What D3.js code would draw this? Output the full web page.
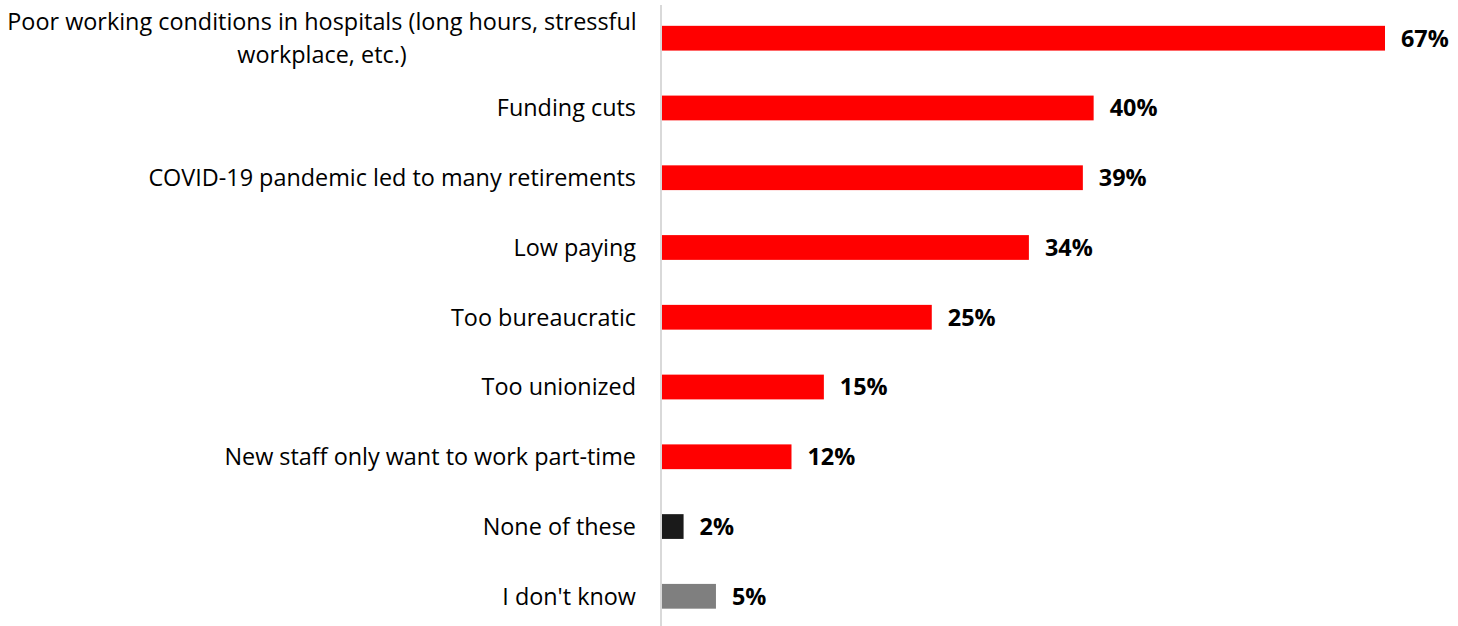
<!DOCTYPE html>
<html><head><meta charset="utf-8">
<script src="https://cdn.jsdelivr.net/npm/d3@7"></script>
<style>body{margin:0;background:#fff}svg{display:block}text{font-family:"Open Sans",sans-serif}</style>
</head><body><div id="chart"></div>
<script>
const categories = [
  ["Poor working conditions in hospitals (long hours, stressful", "workplace, etc.)"],
  ["Funding cuts"],
  ["COVID-19 pandemic led to many retirements"],
  ["Low paying"],
  ["Too bureaucratic"],
  ["Too unionized"],
  ["New staff only want to work part-time"],
  ["None of these"],
  ["I don't know"]
];
const values = [67, 40, 39, 34, 25, 15, 12, 2, 5];
const barColors = ["#ff0000","#ff0000","#ff0000","#ff0000","#ff0000","#ff0000","#ff0000","#1a1a1a","#7f7f7f"];

const W = 1458, H = 626;
const svg = d3.select("#chart").append("svg").attr("width", W).attr("height", H);
const x0 = 662;
const x = d3.scaleLinear().domain([0, 67]).range([x0, 1385]);
const y = d3.scaleBand().domain(d3.range(categories.length)).range([3.5, 631]).paddingInner(0.645).paddingOuter(0.32);

svg.append("line").attr("x1", 661).attr("x2", 661).attr("y1", 5).attr("y2", H)
  .attr("stroke", "#d9d9d9").attr("stroke-width", 2);

svg.selectAll("rect.bar").data(values).join("rect").attr("class","bar")
  .attr("x", x0).attr("y", (d,i)=>y(i)).attr("width", d=>x(d)-x0).attr("height", y.bandwidth())
  .attr("fill", (d,i)=>barColors[i]);

svg.selectAll("text.val").data(values).join("text").attr("class","val")
  .attr("x", d=>x(d)+16).attr("y", (d,i)=>y(i)+y.bandwidth()/2).attr("dy","0.36em")
  .attr("font-size", 23.4).attr("font-weight", "bold").attr("fill","#000").text(d=>d+"%");

const lbl = svg.selectAll("text.cat").data(categories).join("text").attr("class","cat")
  .attr("font-size", 23.4).attr("fill","#000");
lbl.each(function(lines,i){
  const t = d3.select(this);
  const cy = y(i)+y.bandwidth()/2;
  if (lines.length === 1) {
    t.append("tspan").attr("x", 636).attr("y", cy).attr("dy","0.36em").attr("text-anchor","end").text(lines[0]);
  } else {
    const n = lines.length;
    lines.forEach((l,k)=>{
      t.append("tspan").attr("x", 322).attr("y", cy + (k-(n-1)/2)*33).attr("dy","0.36em")
        .attr("text-anchor","middle").text(l);
    });
  }
});
</script></body></html>
